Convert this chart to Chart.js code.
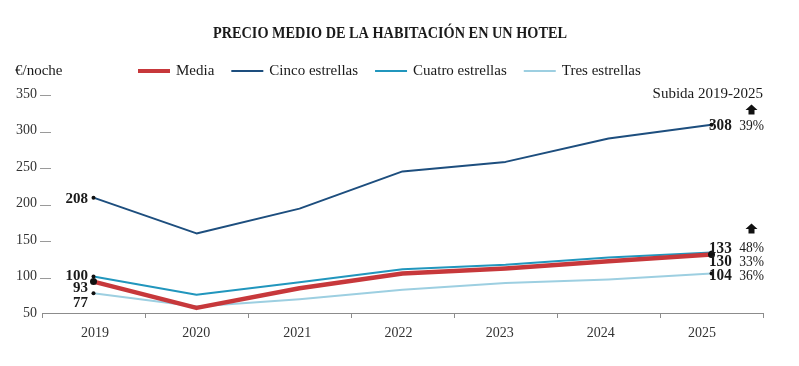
<!DOCTYPE html>
<html><head><meta charset="utf-8">
<script src="https://cdn.jsdelivr.net/npm/chart.js@4/dist/chart.umd.min.js"></script>
<style>html,body{margin:0;padding:0;background:#fff}#wrap{width:799px;height:366px;position:relative}</style>
</head><body><div id="wrap"><canvas id="c"></canvas></div>
<script>
const years  = [2019, 2020, 2021, 2022, 2023, 2024, 2025];
const media  = [93, 57, 84, 104, 111, 121, 130];
const cinco  = [208, 159, 193, 244, 257, 289, 308];
const cuatro = [100, 75, 92, 110, 116, 126, 133];
const tres   = [77, 59, 69, 82, 91, 96, 104];
const yTickValues = [50, 100, 150, 200, 250, 300, 350];
const seriesNames = ['Media', 'Cinco estrellas', 'Cuatro estrellas', 'Tres estrellas'];
const subidaPct = ['33%', '39%', '48%', '36%'];
const titleText = 'PRECIO MEDIO DE LA HABITACIÓN EN UN HOTEL';
const unitText = '€/noche';
const subidaTitle = 'Subida 2019-2025';

const colors = ['#c7383b', '#1d4e7e', '#2196bd', '#9dcfe1'];
const widths = [4.5, 2, 2, 2];
const seriesData = [media, cinco, cuatro, tres];
// label vertical nudges (px) to avoid overlaps: [left, right]
const nudges = [[7, 7], [1, 1], [0, -4], [10, 2.5]];

const SERIF = '"Liberation Serif", "DejaVu Serif", serif';
const TXT = '#1a1a1a';

function txt(ctx, s, x, y, font, align, sx, color) {
  ctx.save();
  ctx.font = font;
  ctx.fillStyle = color || TXT;
  ctx.textAlign = align || 'left';
  ctx.textBaseline = 'middle';
  ctx.translate(x, y);
  ctx.scale(sx || 1, 1);
  ctx.fillText(s, 0, 0);
  ctx.restore();
}
function arrow(ctx, cx, top) {
  ctx.save();
  ctx.fillStyle = '#111';
  ctx.beginPath();
  ctx.moveTo(cx, top);
  ctx.lineTo(cx + 6, top + 5.5);
  ctx.lineTo(cx + 3, top + 5.5);
  ctx.lineTo(cx + 3, top + 10);
  ctx.lineTo(cx - 3, top + 10);
  ctx.lineTo(cx - 3, top + 5.5);
  ctx.lineTo(cx - 6, top + 5.5);
  ctx.closePath();
  ctx.fill();
  ctx.restore();
}

const annot = {
  id: 'annot',
  afterDraw(chart) {
    const ctx = chart.ctx;
    const xs = chart.scales.x, ys = chart.scales.y;
    // y tick dashes
    ctx.save();
    ctx.strokeStyle = '#9a9a9a';
    ctx.lineWidth = 1;
    yTickValues.forEach(v => {
      if (v === yTickValues[0]) return;
      const py = Math.round(ys.getPixelForValue(v)) + 1.5;
      ctx.beginPath(); ctx.moveTo(40, py); ctx.lineTo(51, py); ctx.stroke();
    });
    ctx.restore();
    // title, condensed to fit
    ctx.save();
    ctx.font = 'bold 17px ' + SERIF;
    const tw = ctx.measureText(titleText).width;
    ctx.restore();
    txt(ctx, titleText, 390, 33.5, 'bold 17px ' + SERIF, 'center', 354 / tw);
    // unit
    txt(ctx, unitText, 15, 71, '15px ' + SERIF, 'left', 1);
    // legend
    let lx = 138;
    ctx.save();
    ctx.font = '15px ' + SERIF;
    seriesNames.forEach((n, i) => {
      ctx.strokeStyle = colors[i];
      ctx.lineWidth = i === 0 ? 4 : 2.2;
      ctx.beginPath();
      ctx.moveTo(lx, 71); ctx.lineTo(lx + 32, 71); ctx.stroke();
      ctx.fillStyle = TXT; ctx.textBaseline = 'middle'; ctx.textAlign = 'left';
      ctx.fillText(n, lx + 38, 71);
      lx += 38 + ctx.measureText(n).width + 17;
    });
    ctx.restore();
    // subida header + arrows
    txt(ctx, subidaTitle, 763, 94, '15px ' + SERIF, 'right', 1);
    arrow(ctx, 751.5, 104.5);
    arrow(ctx, 751.5, 223.5);
    // value labels
    const x0 = xs.getPixelForValue(years[0]);
    const x1 = xs.getPixelForValue(years[years.length - 1]);
    seriesData.forEach((d, i) => {
      const yl = ys.getPixelForValue(d[0]) + nudges[i][0];
      txt(ctx, String(d[0]), x0 - 7, yl, 'bold 15px ' + SERIF, 'right', 1);
      const yr = ys.getPixelForValue(d[d.length - 1]) + nudges[i][1];
      txt(ctx, String(d[d.length - 1]), x1 + 7, yr, 'bold 16px ' + SERIF, 'left', 0.95);
      txt(ctx, subidaPct[i], 764, yr, '15px ' + SERIF, 'right', 0.9);
    });
  }
};

const datasets = seriesData.map((d, i) => ({
  label: seriesNames[i],
  data: years.map((yr, k) => ({ x: yr, y: d[k] })),
  borderColor: colors[i],
  borderWidth: widths[i],
  tension: 0,
  borderCapStyle: 'round',
  borderJoinStyle: 'round',
  pointRadius: years.map((_, k) => (k === 0 || k === years.length - 1) ? (i === 0 ? 3.5 : 2) : 0),
  pointBackgroundColor: '#111',
  pointBorderWidth: 0,
  order: i === 0 ? 0 : i
}));

new Chart(document.getElementById('c'), {
  type: 'line',
  data: { datasets },
  options: {
    responsive: true,
    maintainAspectRatio: false,
    animation: false,
    layout: { padding: { top: 94, right: 36, left: 0, bottom: 0 } },
    plugins: { legend: { display: false }, title: { display: false }, tooltip: { enabled: false } },
    scales: {
      xb: {
        type: 'category', labels: years.map(String), position: 'bottom', weight: 0, offset: true,
        grid: { display: true, drawOnChartArea: false, drawTicks: true, tickLength: 5, color: '#8c8c8c', lineWidth: 1, offset: true },
        border: { display: true, color: '#8c8c8c', width: 1 },
        ticks: { display: false },
        afterFit(s) { s.height = 0; }
      },
      x: {
        type: 'linear', position: 'bottom', weight: 1,
        min: 2018.476, max: 2025.603,
        afterBuildTicks(s) { s.ticks = years.map(v => ({ value: v })); },
        grid: { display: false, drawTicks: false },
        border: { display: false },
        ticks: { padding: 12, color: '#333', font: { family: SERIF, size: 14 }, callback: v => String(v), maxRotation: 0, autoSkip: false },
        afterFit(s) { s.height = 53; }
      },
      y: {
        type: 'linear', min: 50, max: 350,
        afterBuildTicks(s) { s.ticks = yTickValues.map(v => ({ value: v })); },
        grid: { display: false, drawTicks: false },
        border: { display: false },
        ticks: { padding: 5, color: '#333', font: { family: SERIF, size: 14 }, callback: v => String(v) },
        afterFit(s) { s.width = 42; }
      }
    }
  },
  plugins: [annot]
});
</script>
</body></html>
